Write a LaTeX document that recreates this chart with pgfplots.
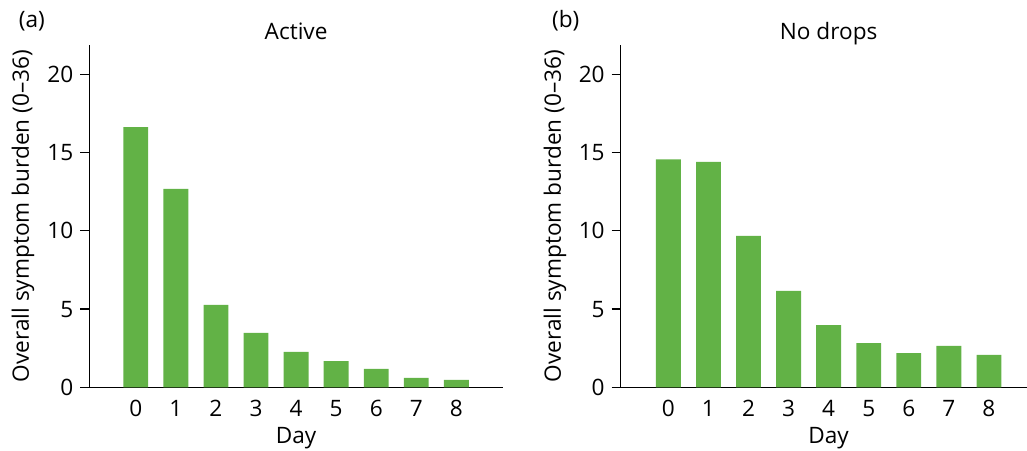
\documentclass[border=0pt]{standalone}
\usepackage{pgfplots}
\pgfplotsset{compat=1.18}
\usepackage{fontspec}
\setmainfont{Open Sans}
\definecolor{bargreen}{HTML}{62B246}
\pgfplotsset{
  panel/.style={
    scale only axis,
    clip=false,
    height=171.15pt,
    axis x line=bottom,
    axis y line=left,
    axis line style={-, line width=0.65pt},
    ymin=0, ymax=21.87,
    ytick={0,5,10,15,20},
    xtick={0,...,8},
    tick align=outside,
    major tick length=4.5pt,
    ytick style={line width=0.65pt, black},
    xtick style={draw=none},
    ybar,
    bar width=0.62,
    font=\fontsize{11.3pt}{13pt}\selectfont,
    /pgf/number format/assume math mode=true,
    ylabel={Overall symptom burden (0–36)},
    xlabel={Day},
    xticklabel style={yshift=1.5pt},
    every axis title/.style={anchor=base, at={(axis cs:4,21.87)}, yshift=2.5pt},
    every axis x label/.style={anchor=base, at={(axis cs:4,0)}, yshift=-28pt},
  },
}
\begin{document}
\begin{tikzpicture}
\path[use as bounding box] (-44.65pt,-31.35pt) rectangle (468.85pt,193.65pt);
\begin{axis}[panel,
  at={(0pt,0pt)}, anchor=south west,
  width=207pt,
  xmin=-1.16, xmax=9.17,
  title={Active},
  every axis y label/.style={at={(axis description cs:-0.160,0.5)}, rotate=90, anchor=center},
]
\addplot[fill=bargreen, draw=none] coordinates {
(0,16.63) (1,12.67) (2,5.26) (3,3.47) (4,2.26) (5,1.68) (6,1.17) (7,0.60) (8,0.47)};
\node[anchor=base west, font=\fontsize{11.3pt}{13pt}\selectfont] at (rel axis cs:-0.187,1.05) {(a)};
\end{axis}
\begin{axis}[panel,
  at={(265.7pt,0pt)}, anchor=south west,
  width=203.15pt,
  xmin=-1.19, xmax=8.95,
  title={No drops},
  every axis y label/.style={at={(axis description cs:-0.162,0.5)}, rotate=90, anchor=center},
]
\addplot[fill=bargreen, draw=none] coordinates {
(0,14.57) (1,14.40) (2,9.67) (3,6.16) (4,3.98) (5,2.83) (6,2.19) (7,2.64) (8,2.07)};
\node[anchor=base west, font=\fontsize{11.3pt}{13pt}\selectfont] at (rel axis cs:-0.186,1.05) {(b)};
\end{axis}
\end{tikzpicture}
\end{document}
